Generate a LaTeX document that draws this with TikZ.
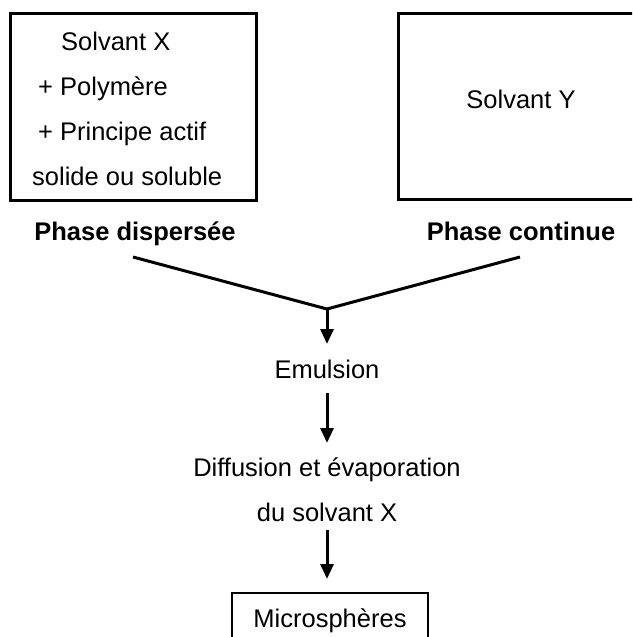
\documentclass[tikz,border=0pt]{standalone}
\usepackage{fontspec}
\setmainfont{Liberation Sans}
\usetikzlibrary{arrows.meta}
\begin{document}
\begin{tikzpicture}[x=1pt,y=-1pt,
  txt/.style={font=\fontsize{25.5}{30}\selectfont, inner sep=0pt},
  btxt/.style={font=\fontsize{25.5}{30}\selectfont\bfseries, inner sep=0pt},
  boxline/.style={line width=3pt},
  conn/.style={line width=3pt, line join=miter},
  arr/.style={line width=3pt, -{Triangle[width=13pt,length=15pt]}}]
\useasboundingbox (0,0) rectangle (632,637);
\clip (0,0) rectangle (632,637);
% top boxes
\draw[boxline] (10,13) rectangle (256,200);
\node (bxl) at (133,106) {};
\draw[boxline] (398,13) rectangle (660,199);
\node (bxr) at (520,106) {};
\node[txt, anchor=base west] (l1) at (61,50) {Solvant X};
\node[txt, anchor=base west] (l2) at (38,95) {+ Polymère};
\node[txt, anchor=base west] (l3) at (38,140) {+ Principe actif};
\node[txt, anchor=base west] (l4) at (32,185) {solide ou soluble};
\node[txt, anchor=base] (sy) at (521,108) {Solvant Y};
% phase labels
\node[btxt, anchor=base] (pd) at (135,240) {Phase dispersée};
\node[btxt, anchor=base] (pc) at (521,240) {Phase continue};
% merge lines
\coordinate (ls) at (133,257);
\coordinate (rs) at (520,257);
\coordinate (j) at (327,309);
\draw[conn] (ls) -- (j) -- (rs);
\coordinate (a1) at (327,344);
\draw[arr] (j) -- (a1);
\node[txt, anchor=base] (emul) at (327,378) {Emulsion};
\coordinate (a2s) at (327,393);
\coordinate (a2e) at (327,443);
\draw[arr] (a2s) -- (a2e);
\node[txt, anchor=base] (diff) at (327,476) {Diffusion et évaporation};
\node[txt, anchor=base] (du) at (327,521) {du solvant X};
\coordinate (a3s) at (327,530);
\coordinate (a3e) at (327,579);
\draw[arr] (a3s) -- (a3e);
\draw[line width=2.5pt] (232,593) rectangle (428,670);
\node[txt, anchor=base] (mic) at (330,627) {Microsphères};
\end{tikzpicture}
\end{document}
